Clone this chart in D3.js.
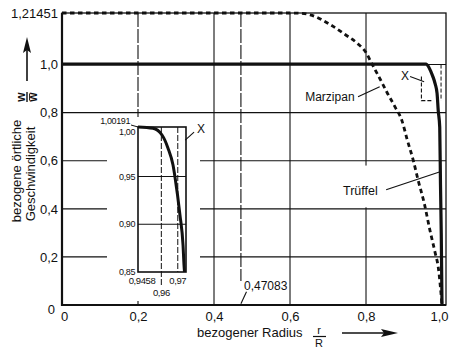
<!DOCTYPE html>
<html>
<head>
<meta charset="utf-8">
<script src="https://cdn.jsdelivr.net/npm/d3@7"></script>
<style>
body { margin: 0; background: #fff; }
svg text { font-family: "Liberation Sans", Arial, sans-serif; fill: #111; }
</style>
</head>
<body>
<svg id="chart" width="450" height="348"></svg>
<script>
// axis ticks and labels (decimal comma as in the original)
var xTicks = [0, 0.2, 0.4, 0.6, 0.8, 1.0];
var xTickLabels = ["0", "0,2", "0,4", "0,6", "0,8", "1,0"];
var yTicks = [0, 0.2, 0.4, 0.6, 0.8, 1.0, 1.21451];
var yTickLabels = ["0", "0,2", "0,4", "0,6", "0,8", "1,0", "1,21451"];
var xGrid = [0.2, 0.4, 0.47083, 0.6, 0.8];
var yGrid = [0.2, 0.4, 0.6, 0.8, 1.0];

// velocity profiles [r/R, w/w_mean]
var marzipan = [[0, 1.21451], [0.6, 1.21451], [0.625, 1.2135], [0.653, 1.207], [0.705, 1.167],
	[0.745, 1.125], [0.776, 1.09], [0.80, 1.05], [0.815, 1.005], [0.837, 0.94], [0.855, 0.885],
	[0.876, 0.825], [0.895, 0.765], [0.908, 0.69], [0.924, 0.604], [0.937, 0.52], [0.953, 0.425],
	[0.968, 0.3125], [0.982, 0.217], [0.99, 0.158], [1.0, 0]];
var trueffel = [[0, 1.00191], [0.958, 1.00191], [0.965, 0.99], [0.971, 0.97], [0.976, 0.95],
	[0.982, 0.92], [0.987, 0.88], [0.990, 0.81], [0.994, 0.74], [0.996, 0.5], [0.998, 0.3], [1.0, 0]];

// inset (detail X of the Trüffel profile)
var insetXDomain = [0.9458, 0.975];
var insetYDomain = [0.85, 1.00191];
var insetXGrid = [0.96, 0.97];
var insetYGrid = [0.90, 0.95];
var insetXTicks = [0.9458, 0.96, 0.97];
var insetXTickLabels = ["0,9458", "0,96", "0,97"];
var insetYTicks = [0.85, 0.90, 0.95, 1.00, 1.00191];
var insetYTickLabels = ["0,85", "0,90", "0,95", "1,00", "1,00191"];
var trueffelZoom = [[0.9458, 1.00191], [0.9549, 1.0005], [0.9604, 0.9935], [0.9640, 0.980],
	[0.9671, 0.962], [0.9683, 0.9495], [0.9713, 0.910], [0.9732, 0.878], [0.9738, 0.857], [0.9741, 0.85]];

var ink = '#111';
var svg = d3.select('#chart');

// main scales
var x = d3.scaleLinear().domain([0, 1.0105]).range([62, 446]);
var y = d3.scaleLinear().domain([0, 1.21451]).range([305, 13]);

// inset scales
var xi = d3.scaleLinear().domain(insetXDomain).range([138, 186]);
var yi = d3.scaleLinear().domain(insetYDomain).range([272, 127]);

// grid lines
svg.selectAll('.hgrid').data(yGrid).enter().append('line').attr('class', 'hgrid')
	.attr('x1', x(0)).attr('x2', x(1.0105))
	.attr('y1', function(d) { return y(d); }).attr('y2', function(d) { return y(d); })
	.attr('stroke', ink).attr('stroke-width', 1.1);

svg.selectAll('.vgrid').data(xGrid).enter().append('line').attr('class', 'vgrid')
	.attr('x1', function(d) { return x(d); }).attr('x2', function(d) { return x(d); })
	.attr('y1', y(1.21451)).attr('y2', function(d) { return d === 0.47083 ? y(0.1) : y(0); })
	.attr('stroke', ink).attr('stroke-width', 1.1)
	.attr('stroke-dasharray', function(d) { return d === 0.2 || d === 0.47083 ? '14,2' : null; });

// white areas behind the inset and the Trüffel label
svg.append('rect').attr('x', 107).attr('y', 117).attr('width', 93).attr('height', 182).attr('fill', '#fff');
svg.append('rect').attr('x', x(0.735)).attr('y', y(0.58)).attr('width', 44).attr('height', y(0.4) - y(0.58) - 1.5).attr('fill', '#fff');

// zoom region marker X in the main plot
svg.append('path')
	.attr('d', 'M' + x(insetXDomain[0]) + ',' + y(0.95) + 'V' + y(0.85) + 'H' + x(insetXDomain[1]))
	.attr('fill', 'none').attr('stroke', ink).attr('stroke-width', 1.1).attr('stroke-dasharray', '4,2');
svg.append('line').attr('x1', x(0.9975)).attr('x2', x(0.9975)).attr('y1', y(1.0)).attr('y2', y(0.85))
	.attr('stroke', ink).attr('stroke-width', 1).attr('stroke-dasharray', '4,2');

// frame
svg.append('rect').attr('x', x(0)).attr('y', y(1.21451))
	.attr('width', x(1.0105) - x(0)).attr('height', y(0) - y(1.21451))
	.attr('fill', 'none').attr('stroke', ink).attr('stroke-width', 1.3);
svg.append('path').attr('d', 'M' + x(0) + ',' + y(1.21451) + 'V' + y(0) + 'H' + x(1.0105))
	.attr('fill', 'none').attr('stroke', ink).attr('stroke-width', 2.2);

// curves
var line = d3.line().x(function(d) { return x(d[0]); }).y(function(d) { return y(d[1]); })
	.curve(d3.curveMonotoneX);

svg.append('path').datum(trueffel).attr('d', line)
	.attr('fill', 'none').attr('stroke', ink).attr('stroke-width', 3.2);
svg.append('path').datum(marzipan).attr('d', line)
	.attr('fill', 'none').attr('stroke', ink).attr('stroke-width', 2.8)
	.attr('stroke-dasharray', '4.5,3.5');

// axes
var yAxis = d3.axisLeft(y).tickValues(yTicks).tickSize(0).tickPadding(4)
	.tickFormat(function(d, i) { return yTickLabels[i]; });
var gy = svg.append('g').attr('transform', 'translate(' + x(0) + ',0)').call(yAxis);
var xAxis = d3.axisBottom(x).tickValues(xTicks).tickSize(0).tickPadding(7)
	.tickFormat(function(d, i) { return xTickLabels[i]; });
var gx = svg.append('g').attr('transform', 'translate(0,' + y(0) + ')').call(xAxis);

[gx, gy].forEach(function(g) {
	g.select('.domain').remove();
	g.selectAll('text').style('font-size', '13px').attr('fill', ink);
});
gy.selectAll('.tick').filter(function(d) { return d === 0; }).select('text')
	.attr('x', -7).attr('dy', '0.65em');
gx.selectAll('.tick').filter(function(d) { return d === 0; }).select('text')
	.attr('dx', 2);
gx.selectAll('.tick').filter(function(d) { return d === 1.0; }).select('text')
	.attr('dx', -3);

// y axis title
var ytitle = svg.append('g');
ytitle.append('text').attr('transform', 'translate(21,171) rotate(-90)')
	.attr('text-anchor', 'middle').style('font-size', '13px').text('bezogene örtliche');
ytitle.append('text').attr('transform', 'translate(35,174) rotate(-90)')
	.attr('text-anchor', 'middle').style('font-size', '13px').text('Geschwindigkeit');
var frac = ytitle.append('g').attr('transform', 'translate(27,97) rotate(-90)');
frac.append('text').attr('x', 0).attr('y', -2).attr('text-anchor', 'middle')
	.style('font-size', '12px').style('font-weight', 'bold').text('w');
frac.append('line').attr('x1', -5).attr('x2', 5).attr('y1', 0).attr('y2', 0)
	.attr('stroke', ink).attr('stroke-width', 1.4);
frac.append('text').attr('x', 0).attr('y', 10).attr('text-anchor', 'middle')
	.style('font-size', '12px').style('font-weight', 'bold').text('w');
frac.append('line').attr('x1', -3.5).attr('x2', 3.5).attr('y1', 2.6).attr('y2', 2.6)
	.attr('stroke', ink).attr('stroke-width', 1);
ytitle.append('line').attr('x1', 27).attr('x2', 27).attr('y1', 81).attr('y2', 48)
	.attr('stroke', ink).attr('stroke-width', 1.6);
ytitle.append('path').attr('d', 'M27,37L23,53L27,50L31,53Z').attr('fill', ink);

// x axis title
var xtitle = svg.append('g');
xtitle.append('text').attr('x', 197).attr('y', 337).style('font-size', '13px').text('bezogener Radius');
xtitle.append('text').attr('x', 319).attr('y', 334).attr('text-anchor', 'middle')
	.style('font-size', '11px').text('r');
xtitle.append('line').attr('x1', 313).attr('x2', 326).attr('y1', 336.5).attr('y2', 336.5)
	.attr('stroke', ink).attr('stroke-width', 1.2);
xtitle.append('text').attr('x', 319).attr('y', 347).attr('text-anchor', 'middle')
	.style('font-size', '11px').text('R');
xtitle.append('line').attr('x1', 342).attr('x2', 384).attr('y1', 333).attr('y2', 333)
	.attr('stroke', ink).attr('stroke-width', 1.6);
xtitle.append('path').attr('d', 'M398,333L381,329L384,333L381,337Z').attr('fill', ink);

// annotations in the main plot
function leader(x1, y1, x2, y2) {
	svg.append('line').attr('x1', x(x1)).attr('y1', y(y1)).attr('x2', x(x2)).attr('y2', y(y2))
		.attr('stroke', ink).attr('stroke-width', 1.1);
}
svg.append('text').attr('x', x(0.64)).attr('y', y(0.85)).style('font-size', '12px').text('Marzipan');
leader(0.779, 0.866, 0.836, 0.908);
svg.append('text').attr('x', x(0.9026)).attr('y', y(0.937)).attr('text-anchor', 'middle')
	.style('font-size', '12px').text('X');
leader(0.916, 0.95, 0.953, 0.929);
svg.append('text').attr('x', x(0.7395)).attr('y', y(0.458)).style('font-size', '12.5px').text('Trüffel');
leader(0.853, 0.479, 0.995, 0.554);
svg.append('text').attr('x', x(0.479)).attr('y', y(0.0625)).style('font-size', '12px').text('0,47083');
leader(0.4855, 0.055, 0.47083, 0.005);

// inset
var inset = svg.append('g');
inset.selectAll('.ihgrid').data(insetYGrid).enter().append('line').attr('class', 'ihgrid')
	.attr('x1', xi(insetXDomain[0])).attr('x2', xi(insetXDomain[1]))
	.attr('y1', function(d) { return yi(d); }).attr('y2', function(d) { return yi(d); })
	.attr('stroke', ink).attr('stroke-width', 1.1);
inset.selectAll('.ivgrid').data(insetXGrid).enter().append('line').attr('class', 'ivgrid')
	.attr('x1', function(d) { return xi(d); }).attr('x2', function(d) { return xi(d); })
	.attr('y1', yi(insetYDomain[1])).attr('y2', function(d) { return d === 0.96 ? yi(0.835) : yi(0.85); })
	.attr('stroke', ink).attr('stroke-width', 1).attr('stroke-dasharray', '6,2');
inset.append('rect').attr('x', xi(insetXDomain[0])).attr('y', yi(insetYDomain[1]))
	.attr('width', xi(insetXDomain[1]) - xi(insetXDomain[0]))
	.attr('height', yi(insetYDomain[0]) - yi(insetYDomain[1]))
	.attr('fill', 'none').attr('stroke', ink).attr('stroke-width', 1.6);

var iline = d3.line().x(function(d) { return xi(d[0]); }).y(function(d) { return yi(d[1]); })
	.curve(d3.curveMonotoneX);
inset.append('path').datum(trueffelZoom).attr('d', iline)
	.attr('fill', 'none').attr('stroke', ink).attr('stroke-width', 3);

// inset tick labels (1,00191 and 1,00 are pulled apart as in the original)
var iyOffset = { 1.00191: [-5, -6], 1.00: [0, 3.5] };
inset.selectAll('.iylab').data(insetYTicks).enter().append('text').attr('class', 'iylab')
	.attr('x', function(d) { return xi(insetXDomain[0]) - 3 + (iyOffset[d] ? iyOffset[d][0] : 0); })
	.attr('y', function(d) { return yi(d) + (iyOffset[d] ? iyOffset[d][1] : 0); })
	.attr('dy', '0.35em').attr('text-anchor', 'end')
	.style('font-size', '9px').style('letter-spacing', '-0.4px')
	.text(function(d, i) { return insetYTickLabels[i]; });
inset.append('line').attr('x1', xi(insetXDomain[0]) - 7).attr('x2', xi(insetXDomain[0]))
	.attr('y1', yi(1.00191) - 2).attr('y2', yi(1.00191)).attr('stroke', ink).attr('stroke-width', 1);

var ixPos = { 0.9458: [4, 284], 0.96: [0, 296], 0.97: [0, 284] };
inset.selectAll('.ixlab').data(insetXTicks).enter().append('text').attr('class', 'ixlab')
	.attr('x', function(d) { return xi(d) + ixPos[d][0]; })
	.attr('y', function(d) { return ixPos[d][1]; })
	.attr('text-anchor', 'middle')
	.style('font-size', '9.5px').style('letter-spacing', '-0.4px')
	.text(function(d, i) { return insetXTickLabels[i]; });

inset.append('text').attr('x', xi(0.9841)).attr('y', yi(0.9954)).attr('text-anchor', 'middle')
	.style('font-size', '12px').text('X');
inset.append('line').attr('x1', xi(0.9799)).attr('y1', yi(0.9965))
	.attr('x2', xi(0.9745)).attr('y2', yi(0.9881)).attr('stroke', ink).attr('stroke-width', 1.1);
</script>
</body>
</html>
